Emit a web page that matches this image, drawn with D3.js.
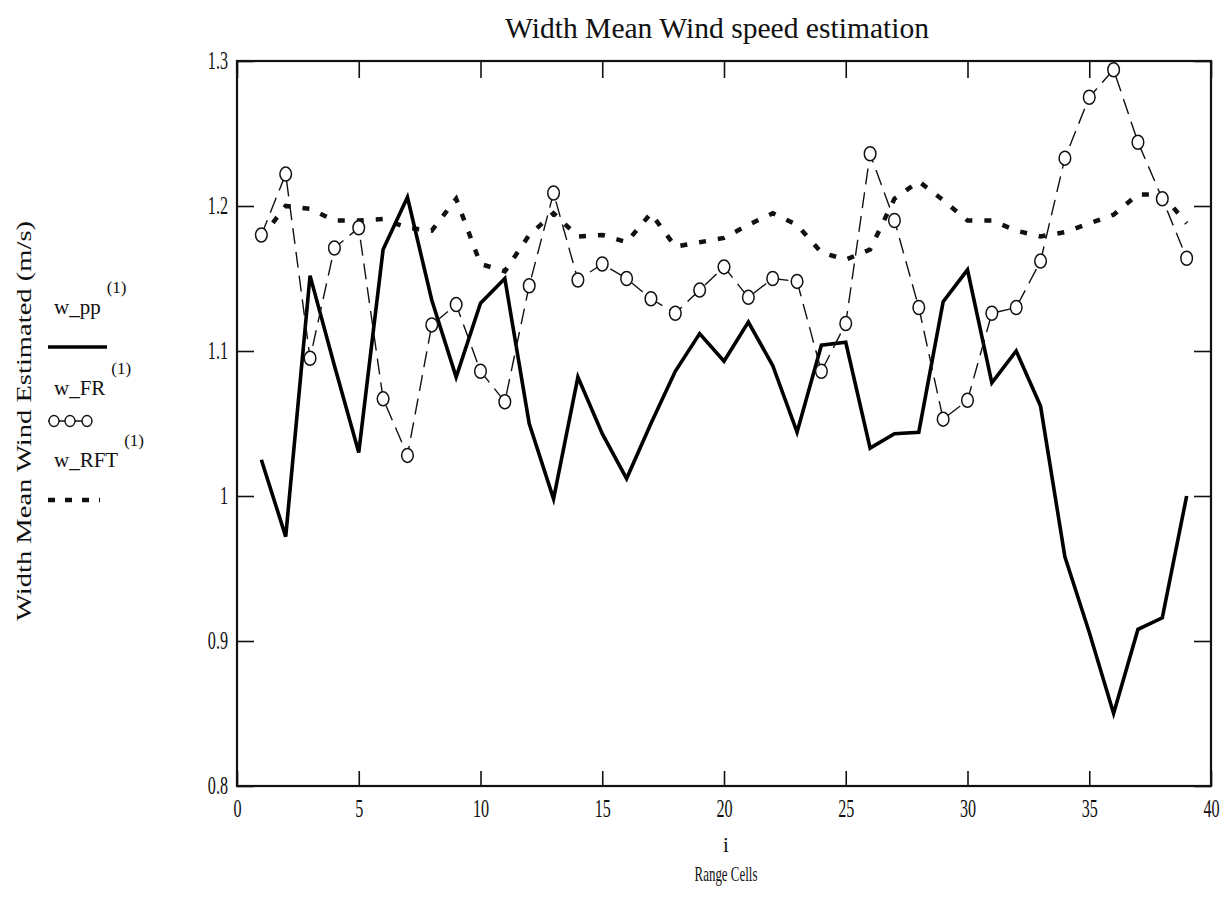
<!DOCTYPE html>
<html>
<head>
<meta charset="utf-8">
<script src="https://cdn.jsdelivr.net/npm/d3@7"></script>
<style>
  body { margin: 0; background: #fff; }
  svg { display: block; }
  text { font-family: "Liberation Serif", "DejaVu Serif", serif; fill: #111; }
</style>
</head>
<body>
<svg id="chart" width="1231" height="900"></svg>
<script>
// ---- data ----
const cells = d3.range(1, 40); // i = 1..39
const wPP = [1.025,0.972,1.152,1.09,1.03,1.17,1.206,1.135,1.082,1.133,1.15,1.05,0.998,1.082,1.043,1.012,1.05,1.086,1.112,1.093,1.12,1.09,1.044,1.104,1.106,1.033,1.043,1.044,1.134,1.156,1.078,1.10,1.062,0.958,0.906,0.85,0.908,0.916,1.0];
const wFR = [1.18,1.222,1.095,1.171,1.185,1.067,1.028,1.118,1.132,1.086,1.065,1.145,1.209,1.149,1.16,1.15,1.136,1.126,1.142,1.158,1.137,1.15,1.148,1.086,1.119,1.236,1.19,1.13,1.053,1.066,1.126,1.13,1.162,1.233,1.275,1.294,1.244,1.205,1.164];
const wRFT = [1.178,1.2,1.198,1.19,1.19,1.191,1.185,1.183,1.205,1.16,1.155,1.18,1.195,1.179,1.18,1.175,1.195,1.172,1.175,1.178,1.187,1.195,1.187,1.168,1.163,1.17,1.205,1.217,1.204,1.19,1.19,1.183,1.179,1.182,1.188,1.194,1.208,1.208,1.188];
const xTickValues = [0,5,10,15,20,25,30,35,40];
const xTickLabels = ["0","5","10","15","20","25","30","35","40"];
const yTickValues = [0.8,0.9,1.0,1.1,1.2,1.3];
const yTickLabels = ["0.8","0.9","1","1.1","1.2","1.3"];
const titleText = "Width Mean Wind speed estimation";
const yAxisTitle = "Width Mean Wind Estimated (m/s)";
const xAxisVar = "i";
const xAxisTitle = "Range Cells";
const seriesNames = ["w_pp", "w_FR", "w_RFT"];

// ---- layout ----
const svg = d3.select("#chart");
const L = 237, R = 1211, T = 61, B = 786;
const x = d3.scaleLinear().domain([0, 40]).range([L, R]);
const y = d3.scaleLinear().domain([0.8, 1.3]).range([B, T]);
const sx = 0.62; // horizontal squeeze of the tall, narrow tick font

// axes with inward ticks
const gx = svg.append("g").attr("transform", `translate(0,${B})`)
  .call(d3.axisBottom(x).tickValues(xTickValues).tickSize(-15).tickPadding(13)
        .tickFormat((d, i) => xTickLabels[i]));
const gxt = svg.append("g").attr("transform", `translate(0,${T})`)
  .call(d3.axisTop(x).tickValues(xTickValues).tickSize(-17).tickFormat(""));
const gy = svg.append("g").attr("transform", `translate(${L},0)`)
  .call(d3.axisLeft(y).tickValues(yTickValues).tickSize(-17).tickPadding(9)
        .tickFormat((d, i) => yTickLabels[i]));
const gyr = svg.append("g").attr("transform", `translate(${R},0)`)
  .call(d3.axisRight(y).tickValues(yTickValues).tickSize(-17).tickFormat(""));
[gx, gxt, gy, gyr].forEach(g => {
  g.select(".domain").remove();
  g.selectAll(".tick line").attr("stroke", "#111").attr("stroke-width", 1.6);
});
gx.selectAll("text").attr("font-size", 26).style("font-family", "Liberation Serif")
  .attr("fill", "#111").attr("transform", `scale(${sx},1)`);
gy.selectAll("text").attr("font-size", 26).style("font-family", "Liberation Serif")
  .attr("fill", "#111").attr("x", -9 / sx).attr("dy", "0.28em")
  .attr("transform", `scale(${sx},1)`);

// frame
svg.append("rect").attr("x", L).attr("y", T).attr("width", R - L).attr("height", B - T)
  .attr("fill", "none").attr("stroke", "#111").attr("stroke-width", 2.2);

// series
const line = vals => d3.line().x((d, i) => x(cells[i])).y(d => y(d))(vals);

svg.append("path").attr("d", line(wRFT)).attr("fill", "none")
  .attr("stroke", "#111").attr("stroke-width", 4.5).attr("stroke-dasharray", "7,12");

svg.append("path").attr("d", line(wPP)).attr("fill", "none")
  .attr("stroke", "#000").attr("stroke-width", 3.6).attr("stroke-linejoin", "miter");

svg.append("path").attr("d", line(wFR)).attr("fill", "none")
  .attr("stroke", "#111").attr("stroke-width", 1.4).attr("stroke-dasharray", "16,8");

svg.append("g").selectAll("ellipse").data(wFR).join("ellipse")
  .attr("cx", (d, i) => x(cells[i])).attr("cy", d => y(d))
  .attr("rx", 5.8).attr("ry", 7)
  .attr("fill", "white").attr("stroke", "#111").attr("stroke-width", 1.5);

// title
svg.append("text").attr("x", 717).attr("y", 38).attr("text-anchor", "middle")
  .attr("font-size", 30).attr("textLength", 424).attr("lengthAdjust", "spacingAndGlyphs")
  .text(titleText);

// y axis title
svg.append("text").attr("transform", "translate(31,421) rotate(-90)")
  .attr("text-anchor", "middle").attr("font-size", 22)
  .attr("textLength", 400).attr("lengthAdjust", "spacingAndGlyphs")
  .text(yAxisTitle);

// x axis titles
svg.append("text").attr("x", 726).attr("y", 852).attr("text-anchor", "middle")
  .attr("font-size", 21).text(xAxisVar);
svg.append("text").attr("x", 726).attr("y", 881).attr("text-anchor", "middle")
  .attr("font-size", 22).attr("textLength", 63).attr("lengthAdjust", "spacingAndGlyphs")
  .text(xAxisTitle);

// legend
const leg = svg.append("g");
const legPos = [
  { ty: 314, my: 347 },
  { ty: 395, my: 421 },
  { ty: 467, my: 500 }
];
seriesNames.forEach((name, k) => {
  const t = leg.append("text").attr("x", 54).attr("y", legPos[k].ty).attr("font-size", 21)
    .text(name);
  const w = t.node().getComputedTextLength();
  leg.append("text").attr("x", 54 + w + 6).attr("y", legPos[k].ty - 21)
    .attr("font-size", 17).text("(1)");
});
leg.append("line").attr("x1", 48).attr("x2", 107).attr("y1", legPos[0].my).attr("y2", legPos[0].my)
  .attr("stroke", "#000").attr("stroke-width", 3.6);
leg.append("line").attr("x1", 48).attr("x2", 92).attr("y1", legPos[1].my).attr("y2", legPos[1].my)
  .attr("stroke", "#111").attr("stroke-width", 1.4);
leg.selectAll("ellipse.lm").data([54, 70, 87]).join("ellipse").attr("class", "lm")
  .attr("cx", d => d).attr("cy", legPos[1].my).attr("rx", 5).attr("ry", 5.5)
  .attr("fill", "white").attr("stroke", "#111").attr("stroke-width", 1.4);
leg.append("line").attr("x1", 48).attr("x2", 100).attr("y1", legPos[2].my).attr("y2", legPos[2].my)
  .attr("stroke", "#111").attr("stroke-width", 4.5).attr("stroke-dasharray", "7,10");
</script>
</body>
</html>
